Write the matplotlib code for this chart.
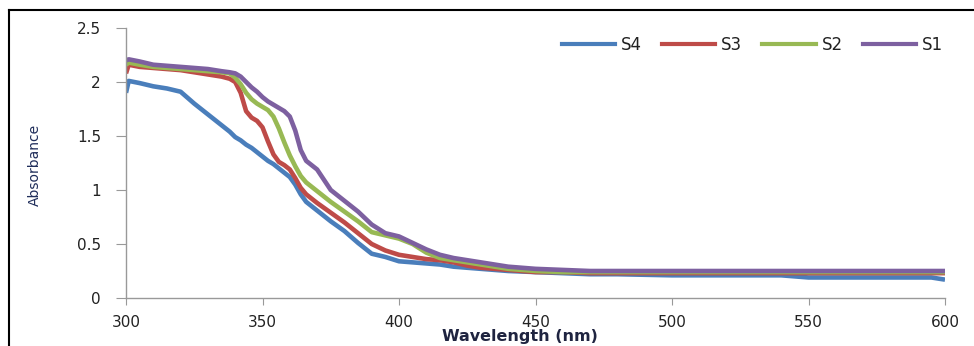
import matplotlib.pyplot as plt
from matplotlib.lines import Line2D

# wavelength grid (nm) shared by all samples
wavelength = [300, 301, 305, 310, 315, 320, 325, 330, 335, 338, 340, 342, 344, 346, 348,
              350, 352, 354, 356, 358, 360, 362, 364, 366, 368, 370, 375, 380, 385, 390,
              395, 400, 405, 410, 415, 420, 425, 430, 440, 450, 460, 470, 480, 500, 520,
              540, 550, 560, 580, 595, 600]

s4 = [1.90, 2.01, 1.99, 1.96, 1.94, 1.91, 1.80, 1.70, 1.60, 1.54, 1.49, 1.46, 1.42, 1.39, 1.35,
      1.31, 1.27, 1.24, 1.20, 1.16, 1.12, 1.05, 0.96, 0.89, 0.85, 0.81, 0.71, 0.62, 0.51, 0.41,
      0.38, 0.34, 0.33, 0.32, 0.31, 0.29, 0.28, 0.27, 0.25, 0.24, 0.23, 0.22, 0.22, 0.21, 0.21,
      0.21, 0.19, 0.19, 0.19, 0.19, 0.17]

s3 = [2.08, 2.16, 2.14, 2.13, 2.12, 2.11, 2.09, 2.07, 2.05, 2.03, 2.00, 1.90, 1.73, 1.67, 1.64,
      1.58, 1.45, 1.33, 1.26, 1.23, 1.19, 1.11, 1.02, 0.96, 0.92, 0.88, 0.79, 0.70, 0.60, 0.50,
      0.44, 0.40, 0.38, 0.36, 0.35, 0.33, 0.30, 0.28, 0.26, 0.24, 0.24, 0.23, 0.23, 0.23, 0.23,
      0.23, 0.23, 0.23, 0.23, 0.23, 0.23]

s2 = [2.16, 2.18, 2.16, 2.14, 2.13, 2.12, 2.11, 2.10, 2.09, 2.08, 2.04, 1.98, 1.90, 1.84, 1.80,
      1.77, 1.74, 1.68, 1.57, 1.44, 1.32, 1.22, 1.13, 1.07, 1.03, 0.99, 0.89, 0.80, 0.71, 0.61,
      0.58, 0.55, 0.50, 0.42, 0.37, 0.35, 0.33, 0.31, 0.27, 0.25, 0.24, 0.24, 0.24, 0.24, 0.24,
      0.24, 0.24, 0.24, 0.24, 0.24, 0.24]

s1 = [2.20, 2.21, 2.19, 2.16, 2.15, 2.14, 2.13, 2.12, 2.10, 2.09, 2.08, 2.05, 2.00, 1.95, 1.91,
      1.86, 1.82, 1.79, 1.76, 1.73, 1.68, 1.55, 1.37, 1.27, 1.23, 1.19, 1.00, 0.90, 0.80, 0.68,
      0.60, 0.57, 0.51, 0.45, 0.40, 0.37, 0.35, 0.33, 0.29, 0.27, 0.26, 0.25, 0.25, 0.25, 0.25,
      0.25, 0.25, 0.25, 0.25, 0.25, 0.25]

series = [("S4", s4, "#4a7ebb"), ("S3", s3, "#be4b48"),
          ("S2", s2, "#98b954"), ("S1", s1, "#7d60a0")]

fig = plt.figure(figsize=(9.74, 3.46), dpi=100)
ax = fig.add_axes([126 / 974, 48 / 346, 819 / 974, 270 / 346])

for name, vals, col in series:
    ax.plot(wavelength, vals, color=col, lw=3.3, label=name,
            solid_joinstyle='round', solid_capstyle='butt')

ax.set_xlim(300, 600)
ax.set_ylim(0, 2.5)
ax.set_xticks([300, 350, 400, 450, 500, 550, 600])
ax.set_yticks([0, 0.5, 1, 1.5, 2, 2.5])
ax.set_yticklabels(["0", "0.5", "1", "1.5", "2", "2.5"])

for s in ["top", "right"]:
    ax.spines[s].set_visible(False)
for s in ["left", "bottom"]:
    ax.spines[s].set_color("#999999")
    ax.spines[s].set_linewidth(1)
ax.tick_params(axis="y", length=7, color="#999999", pad=11, labelsize=11, labelcolor="#222222")
ax.tick_params(axis="x", length=5, color="#999999", pad=7, labelsize=11, labelcolor="#222222")

handles = [Line2D([], [], color=c, lw=3) for _, _, c in series]
fig.legend(handles, [n for n, _, _ in series], loc="center right", ncol=4,
           bbox_to_anchor=(958 / 974, 1 - 45 / 346), frameon=False, fontsize=12,
           handlelength=3.2, handletextpad=0.35, columnspacing=1.2,
           labelcolor="#222222")

fig.text(520 / 974, 1 - 336 / 346, "Wavelength (nm)", ha="center", va="center",
         fontsize=11.5, fontweight="bold", color="#1f2440")
fig.text(35 / 974, 1 - 165 / 346, "Absorbance", ha="center", va="center",
         rotation=90, fontsize=10, color="#1f2d5a",
         family=["Liberation Sans Narrow", "DejaVu Sans"])

# black frame lines (top and left) around the chart
fig.add_artist(Line2D([9 / 974, 1], [1 - 10 / 346] * 2, color="black", lw=1.5,
                      transform=fig.transFigure))
fig.add_artist(Line2D([9 / 974] * 2, [0, 1 - 10 / 346], color="black", lw=1.5,
                      transform=fig.transFigure))

fig.savefig("out.png", dpi=100)
